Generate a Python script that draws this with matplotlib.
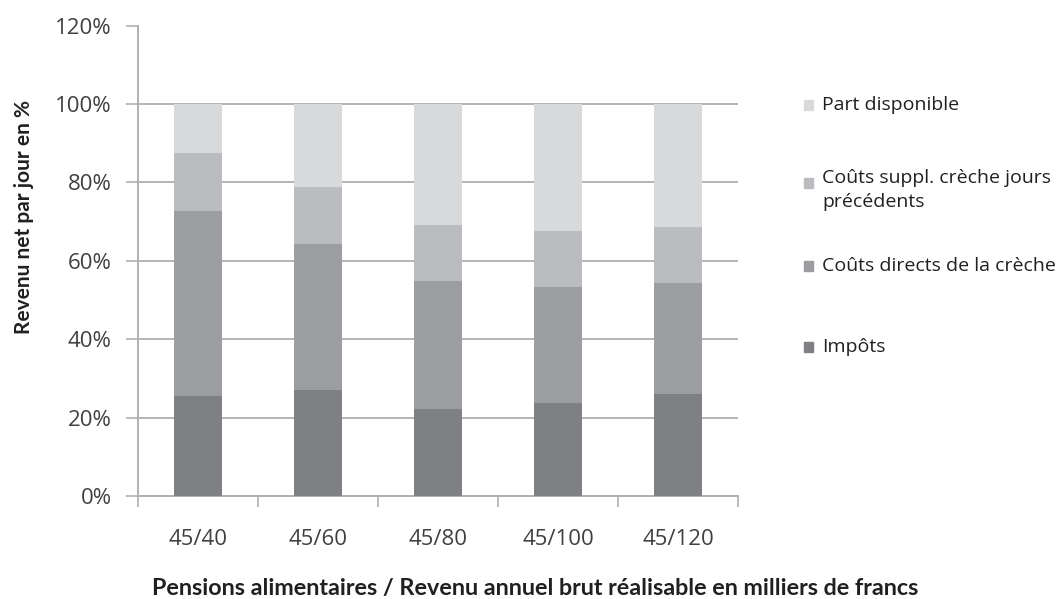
import matplotlib.pyplot as plt
from matplotlib.patches import Rectangle
from matplotlib.ticker import FuncFormatter
import numpy as np

categories = ["45/40", "45/60", "45/80", "45/100", "45/120"]
impots = [25.5, 27.0, 22.3, 23.6, 26.1]
couts_directs = [47.2, 37.3, 32.5, 29.7, 28.2]
couts_suppl = [14.7, 14.4, 14.4, 14.4, 14.3]
part_disponible = [12.6, 21.3, 30.8, 32.3, 31.4]

series = [
    ("Impôts", impots, "#7f8084"),
    ("Coûts directs de la crèche", couts_directs, "#9c9da1"),
    ("Coûts suppl. crèche jours\nprécédents", couts_suppl, "#bbbcc0"),
    ("Part disponible", part_disponible, "#d8d9db"),
]

plt.rcParams["font.family"] = ["Open Sans", "DejaVu Sans"]
label_font = ["Lato", "DejaVu Sans"]

fig = plt.figure(figsize=(10.64, 5.99), dpi=100)
ax = fig.add_axes([138 / 1064, 1 - 496 / 599, 600 / 1064, 470.4 / 599])

x = np.arange(len(categories))
bottom = np.zeros(len(categories))
for label, vals, color in series:
    ax.bar(x, vals, 0.4, bottom=bottom, color=color, zorder=3)
    bottom += np.array(vals)

ax.set_xlim(-0.5, len(categories) - 0.5)
ax.set_ylim(0, 120)
ax.set_yticks(range(0, 121, 20))
ax.yaxis.set_major_formatter(FuncFormatter(lambda v, p: f"{v:.0f}%"))
ax.set_xticks(x)
ax.set_xticklabels(categories)
ax.set_xticks(np.arange(-0.5, len(categories), 1), minor=True)
ax.tick_params(axis="x", which="major", length=0, pad=24, labelsize=16, labelcolor="#404040")
ax.tick_params(axis="x", which="minor", length=8, width=1.2, color="#b0b0b0", direction="out")
ax.tick_params(axis="y", length=9, width=1.2, color="#b0b0b0", labelsize=16, pad=10, labelcolor="#404040")

ax.yaxis.grid(True, color="#b4b4b4", linewidth=1.4, zorder=0)
ax.set_axisbelow(True)
ax.get_ygridlines()[-1].set_visible(False)

for s in ["top", "right"]:
    ax.spines[s].set_visible(False)
for s in ["left", "bottom"]:
    ax.spines[s].set_color("#b0b0b0")
    ax.spines[s].set_linewidth(1.4)

fig.text(24 / 1064, 1 - 217 / 599, "Revenu net par jour en %", rotation=90, fontsize=15,
         fontweight="bold", family=label_font, color="#202020", ha="center", va="center")
fig.text(535 / 1064, 1 - 588 / 599,
         "Pensions alimentaires / Revenu annuel brut réalisable en milliers de francs",
         fontsize=16.8, fontweight="bold", family=label_font, color="#202020", ha="center", va="center")

# manual legend, top to bottom as in the reference
legend_y = [105, 183, 266, 347]
for (label, vals, color), ly in zip(reversed(series), legend_y):
    fig.patches.append(Rectangle((804 / 1064, 1 - (ly + 5) / 599), 9 / 1064, 10 / 599,
                                 transform=fig.transFigure, color=color))
    two_lines = "\n" in label
    fig.text(822 / 1064, 1 - (ly - 14 if two_lines else ly) / 599, label, fontsize=14,
             va="top" if two_lines else "center", color="#202020", linespacing=1.4)

fig.savefig("out.png", dpi=100)
